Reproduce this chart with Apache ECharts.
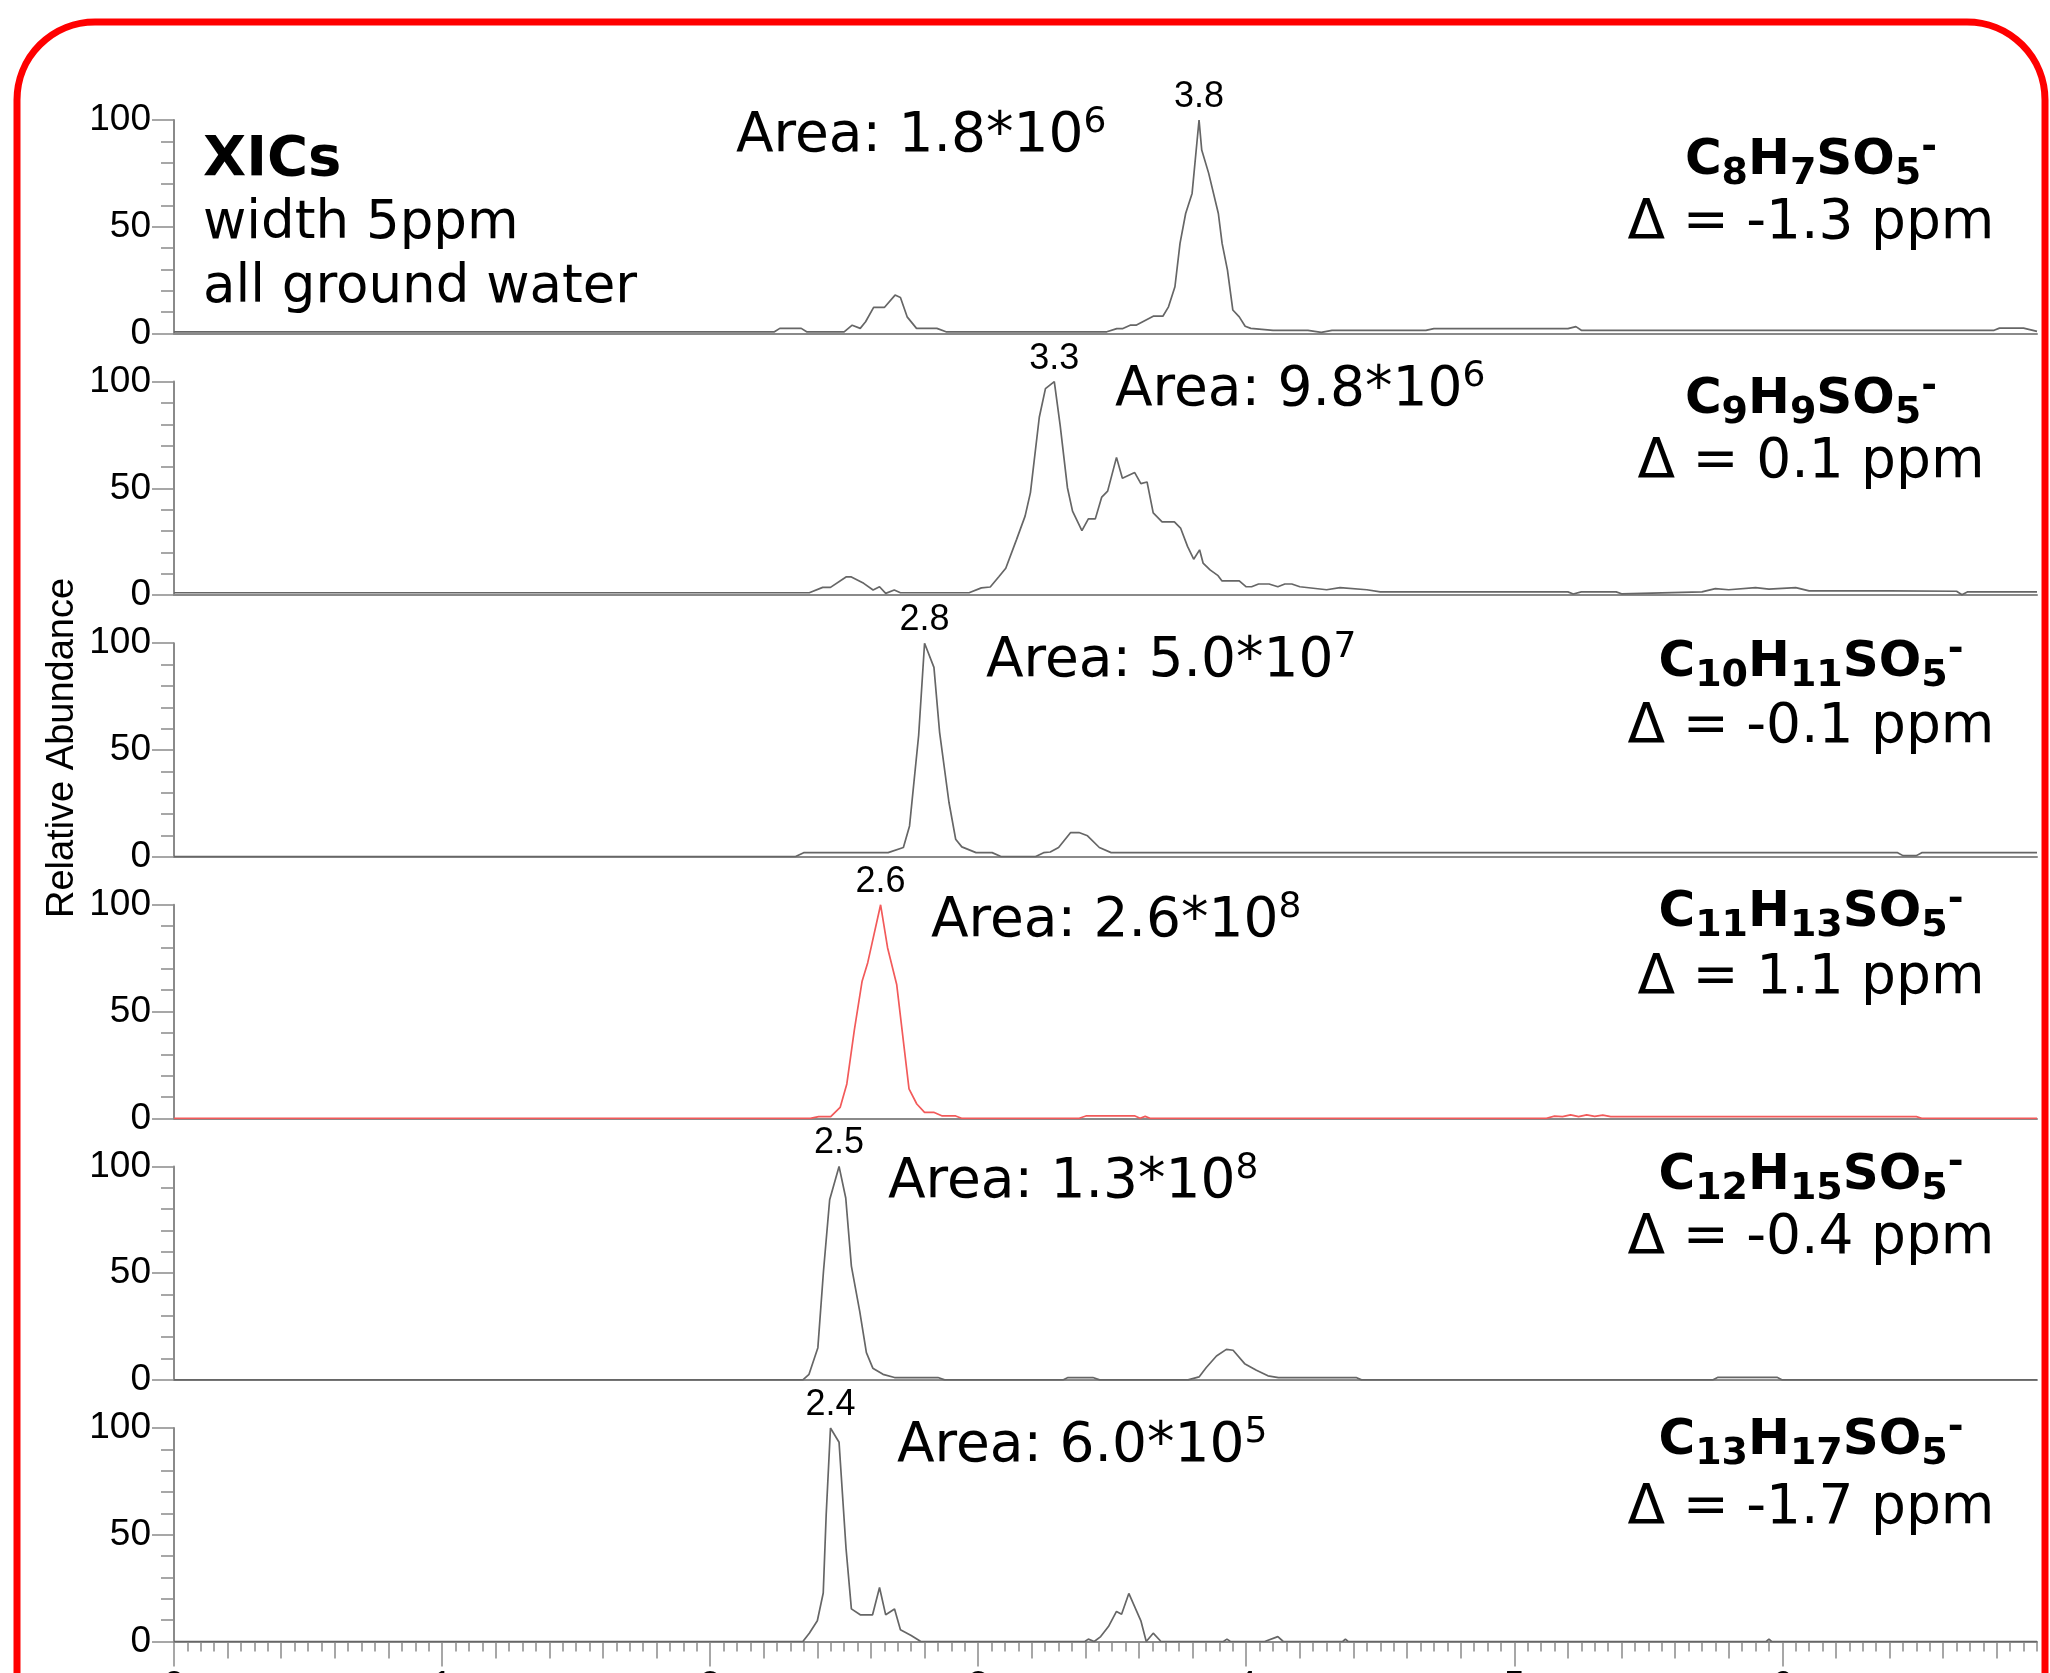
<!DOCTYPE html>
<html>
<head>
<meta charset="utf-8">
<script src="https://cdn.jsdelivr.net/npm/echarts@6/dist/echarts.min.js"></script>
<style>
html,body{margin:0;padding:0;background:#ffffff;}
#chart{width:2050px;height:1673px;}
</style>
</head>
<body>
<div id="chart"></div>
<script>
// ---------- data ----------
const xTickLabels = [0, 1, 2, 3, 4, 5, 6];
const yTickLabels = [0, 50, 100];
const peakLabels = ['3.8', '3.3', '2.8', '2.6', '2.5', '2.4'];
const areaMantissa = ['1.8', '9.8', '5.0', '2.6', '1.3', '6.0'];
const areaExponent = ['6', '6', '7', '8', '8', '5'];
const formulaC = ['8', '9', '10', '11', '12', '13'];
const formulaH = ['7', '9', '11', '13', '15', '17'];
const deltaPpm = ['-1.3', '0.1', '-0.1', '1.1', '-0.4', '-1.7'];

// [time (min), relative abundance]
const trace1 = [[0,0.8],[2.24,0.8],[2.26,2.4],[2.34,2.4],[2.36,0.8],[2.50,0.8],[2.53,3.9],[2.56,2.4],[2.58,5.5],[2.61,12.2],[2.65,12.2],[2.69,18],[2.71,16.9],[2.735,7.8],[2.77,2.4],[2.846,2.4],[2.88,0.8],[3.48,0.8],[3.517,2.3],[3.54,2.3],[3.567,3.9],[3.589,3.9],[3.653,8.1],[3.689,8.1],[3.71,12.5],[3.734,21.9],[3.753,42.2],[3.774,56.2],[3.798,65.6],[3.824,100],[3.834,85.9],[3.86,75],[3.896,56.2],[3.91,42.2],[3.93,29.7],[3.95,11],[3.974,7.8],[3.996,3.4],[4.017,2.4],[4.1,1.5],[4.23,1.5],[4.28,0.5],[4.32,1.5],[4.67,1.5],[4.7,2.3],[5.2,2.3],[5.23,3.2],[5.25,1.5],[6.79,1.5],[6.81,2.5],[6.9,2.5],[6.95,1.0]];
const trace2 = [[0,1.1],[2.37,1.1],[2.42,3.6],[2.449,3.6],[2.507,8.5],[2.527,8.5],[2.573,5.5],[2.608,2.4],[2.632,3.9],[2.655,0.8],[2.687,2.4],[2.71,1.1],[2.966,1.1],[3.012,3.4],[3.045,3.8],[3.077,8.6],[3.103,12.6],[3.143,26],[3.175,37],[3.195,48],[3.228,83.3],[3.251,96.7],[3.284,100],[3.306,79.4],[3.333,50.3],[3.352,39.3],[3.387,30.2],[3.411,35.7],[3.437,35.7],[3.461,45.9],[3.483,48.7],[3.516,64.5],[3.538,54.7],[3.584,57.4],[3.607,52.2],[3.63,53],[3.653,38.5],[3.686,34.3],[3.732,34.3],[3.755,31.4],[3.781,22.8],[3.804,16.8],[3.826,21.2],[3.839,15],[3.865,11.8],[3.895,9.1],[3.909,6.7],[3.974,6.7],[4.0,3.9],[4.02,3.9],[4.046,5.2],[4.085,5.2],[4.118,3.9],[4.144,5.2],[4.17,5.2],[4.2,3.9],[4.3,2.5],[4.35,3.5],[4.45,2.5],[4.5,1.5],[5.2,1.5],[5.22,0.5],[5.25,1.5],[5.38,1.5],[5.4,0.6],[5.7,1.5],[5.75,3],[5.8,2.5],[5.9,3.5],[5.95,2.8],[6.05,3.5],[6.1,2],[6.4,2],[6.65,1.8],[6.67,0.2],[6.69,1.5],[6.95,1.5]];
const trace3 = [[0,0],[2.317,0],[2.349,1.9],[2.664,1.9],[2.721,4.3],[2.744,14.4],[2.778,56.9],[2.8,100],[2.835,88.7],[2.856,58.4],[2.891,25.5],[2.916,8.2],[2.939,4.6],[2.992,1.9],[3.052,1.9],[3.087,0],[3.213,0],[3.244,1.9],[3.269,2.2],[3.3,4.3],[3.345,11.3],[3.376,11.3],[3.408,9.8],[3.452,4.3],[3.496,1.9],[6.43,1.9],[6.45,0.5],[6.5,0.5],[6.52,1.9],[6.95,1.9]];
const trace4 = [[0,0],[2.374,0],[2.405,0.8],[2.45,0.8],[2.485,5.1],[2.51,16.1],[2.538,41.3],[2.567,64.2],[2.588,72.9],[2.636,100],[2.662,79.9],[2.696,62.7],[2.742,13.8],[2.771,6.7],[2.8,2.8],[2.834,2.8],[2.866,1.1],[2.916,1.1],[2.938,0],[3.377,0],[3.402,1.1],[3.585,1.1],[3.604,0],[3.623,0.9],[3.641,0],[5.12,0],[5.15,1],[5.18,0.8],[5.21,1.6],[5.24,0.8],[5.27,1.6],[5.3,0.9],[5.33,1.5],[5.36,0.8],[6.5,0.8],[6.52,0],[6.95,0]];
const trace5 = [[0,0],[2.346,0],[2.369,2.6],[2.402,15.1],[2.423,51],[2.446,84.4],[2.481,100],[2.506,85.2],[2.527,53.3],[2.558,32.2],[2.583,12.8],[2.607,5.5],[2.645,2.6],[2.688,1.1],[2.85,1.1],[2.875,0],[3.316,0],[3.335,1.1],[3.428,1.1],[3.453,0],[3.783,0],[3.824,1.4],[3.851,5.8],[3.889,11.2],[3.926,14.3],[3.951,13.9],[3.994,7.6],[4.038,4.5],[4.081,1.9],[4.12,1.1],[4.41,1.1],[4.43,0],[5.74,0],[5.76,1.2],[5.98,1.2],[6.0,0],[6.95,0]];
const trace6 = [[0,0],[2.346,0],[2.37,3.9],[2.4,9.7],[2.422,22.7],[2.433,59.4],[2.449,100],[2.481,93.3],[2.507,43.7],[2.527,15.3],[2.56,12.5],[2.606,12.5],[2.632,25.3],[2.655,12.5],[2.688,15.2],[2.71,5.5],[2.75,2.8],[2.786,0],[3.398,0],[3.411,1.1],[3.433,0],[3.457,2.3],[3.486,7],[3.516,14.1],[3.535,12.8],[3.562,22.5],[3.607,9.7],[3.627,0],[3.653,3.9],[3.682,0],[3.915,0],[3.928,1.1],[3.941,0],[4.069,0],[4.118,2.3],[4.138,0],[4.36,0],[4.37,1.1],[4.38,0],[5.94,0],[5.95,1.1],[5.96,0],[6.95,0]];

const traces = [trace1, trace2, trace3, trace4, trace5, trace6];
const traceColors = ['#666666', '#666666', '#666666', '#f25a5a', '#666666', '#666666'];

// ---------- layout / style ----------
const X_MAX = 6.95;
const GRID_TOP = 120, GRID_PITCH = 261.6, GRID_H = 213.5;
const AXIS_COLOR = '#8a8a8a';
const NUM_FONT = 'Liberation Sans, Arial, sans-serif';
const TXT_FONT = 'DejaVu Sans, Verdana, sans-serif';

const areaPos = [[736,135],[1115,389],[986,660],[931,920],[888,1181],[897,1445]];
const formulaY = [159, 398, 661, 911, 1174, 1439];
const deltaY = [222, 461, 726, 977, 1237, 1507];
const RIGHT_CX = 1811;

function range(a, b, step) {
  const out = [];
  const n = Math.round((b - a) / step);
  for (let k = 0; k <= n; k++) out.push(Math.round((a + k * step) * 1000) / 1000);
  return out;
}
const midTicks = range(0, 6.8, 0.2);
const minorTicks = range(0, 6.95, 0.05);

const grids = [], xAxes = [], yAxes = [], series = [];
for (let i = 0; i < 6; i++) {
  grids.push({ left: 174, right: 13, top: GRID_TOP + i * GRID_PITCH, height: GRID_H,
    containLabel: false, outerBoundsMode: 'none' });
  const isBottom = i === 5;
  xAxes.push({
    gridIndex: i, type: 'value', position: 'bottom', min: 0, max: X_MAX, interval: 1,
    axisLine: { show: true, onZero: false, lineStyle: { color: AXIS_COLOR, width: 2 } },
    axisTick: { show: isBottom, length: 25, inside: false, customValues: xTickLabels, lineStyle: { color: AXIS_COLOR, width: 1.5 } },
    minorTick: { show: false },
    axisLabel: { show: isBottom, customValues: xTickLabels, margin: 27, fontSize: 37, fontFamily: NUM_FONT, color: '#000',
      formatter: v => (xTickLabels.indexOf(v) >= 0 ? String(v) : '') },
    splitLine: { show: false }
  });
  yAxes.push({
    gridIndex: i, type: 'value', min: 0, max: 100, interval: 50,
    axisLine: { show: true, lineStyle: { color: AXIS_COLOR, width: 2 } },
    axisTick: { show: true, length: 22, inside: false, lineStyle: { color: AXIS_COLOR, width: 1.5 } },
    minorTick: { show: true, splitNumber: 5, length: 13, lineStyle: { color: AXIS_COLOR, width: 1.5 } },
    splitLine: { show: false }, minorSplitLine: { show: false },
    axisLabel: { show: true, margin: 23, fontSize: 37, fontFamily: NUM_FONT, color: '#000',
      formatter: v => (yTickLabels.indexOf(v) >= 0 ? String(v) : '') }
  });
  let apex = traces[i][0];
  traces[i].forEach(p => { if (p[1] > apex[1]) apex = p; });
  series.push({
    type: 'line', xAxisIndex: i, yAxisIndex: i, data: traces[i],
    showSymbol: false, symbol: 'none', smooth: false, animation: false, z: 3,
    lineStyle: { color: traceColors[i], width: 1.7 },
    markPoint: {
      symbol: 'circle', symbolSize: 0, animation: false,
      itemStyle: { color: 'rgba(0,0,0,0)' },
      label: { show: true, position: 'top', distance: 5, fontSize: 36, fontFamily: NUM_FONT, color: '#000',
        formatter: () => peakLabels[i] },
      data: [{ coord: [apex[0], apex[1]] }]
    }
  });
}
// extra tick axes on the bottom grid (0.2 and 0.05 min)
xAxes.push({
  gridIndex: 5, type: 'value', position: 'bottom', offset: 0, min: 0, max: X_MAX, interval: 0.2,
  axisLine: { show: false, onZero: false }, axisLabel: { show: false }, splitLine: { show: false },
  axisTick: { show: true, length: 17, customValues: midTicks, lineStyle: { color: AXIS_COLOR, width: 1.5 } }
});
xAxes.push({
  gridIndex: 5, type: 'value', position: 'bottom', offset: 0, min: 0, max: X_MAX, interval: 0.05,
  axisLine: { show: false, onZero: false }, axisLabel: { show: false }, splitLine: { show: false },
  axisTick: { show: true, length: 10, customValues: minorTicks, lineStyle: { color: AXIS_COLOR, width: 1.5 } }
});

// ---------- annotations ----------
const graphics = [];
graphics.push({
  type: 'rect', z: 0, silent: true,
  shape: { x: 17, y: 22, width: 2028, height: 1800, r: 78 },
  style: { fill: 'none', stroke: '#ff0000', lineWidth: 7 }
});
graphics.push({
  type: 'text', x: 63, y: 748, rotation: Math.PI / 2, z: 10,
  style: { text: 'Relative Abundance', fontSize: 38, fontFamily: NUM_FONT, fill: '#000',
    align: 'center', verticalAlign: 'middle', textAlign: 'center', textVerticalAlign: 'middle' }
});
const xicLines = [['XICs', 'bold', 56, 160], ['width 5ppm', 'normal', 53, 224], ['all ground water', 'normal', 53, 288]];
xicLines.forEach(l => graphics.push({
  type: 'text', x: 203, y: l[3], z: 10,
  style: { text: l[0], fontSize: l[2], fontWeight: l[1], fontFamily: TXT_FONT, fill: '#000',
    align: 'left', verticalAlign: 'middle', textAlign: 'left', textVerticalAlign: 'middle' }
}));
for (let i = 0; i < 6; i++) {
  graphics.push({
    type: 'text', x: areaPos[i][0], y: areaPos[i][1] + 2, z: 10,
    style: {
      text: '{m|Area: ' + areaMantissa[i] + '*10}{s|' + areaExponent[i] + '}',
      align: 'left', verticalAlign: 'middle', textAlign: 'left', textVerticalAlign: 'middle',
      rich: {
        m: { fontSize: 55, fontFamily: TXT_FONT, lineHeight: 76, verticalAlign: 'middle', fill: '#000' },
        s: { fontSize: 36, fontFamily: TXT_FONT, lineHeight: 36, verticalAlign: 'top', padding: [6, 0, 0, 0], fill: '#000' }
      }
    }
  });
  graphics.push({
    type: 'text', x: RIGHT_CX, y: formulaY[i] + 2, z: 10,
    style: {
      text: '{b|C}{s|' + formulaC[i] + '}{b|H}{s|' + formulaH[i] + '}{b|SO}{s|5}{p|-}',
      align: 'center', verticalAlign: 'middle', textAlign: 'center', textVerticalAlign: 'middle',
      rich: {
        b: { fontSize: 50, fontWeight: 'bold', fontFamily: TXT_FONT, lineHeight: 64, verticalAlign: 'middle', fill: '#000' },
        s: { fontSize: 38, fontWeight: 'bold', fontFamily: TXT_FONT, lineHeight: 34, verticalAlign: 'bottom', fill: '#000' },
        p: { fontSize: 38, fontWeight: 'bold', fontFamily: TXT_FONT, lineHeight: 38, verticalAlign: 'top', fill: '#000' }
      }
    }
  });
  graphics.push({
    type: 'text', x: RIGHT_CX, y: deltaY[i] + 2, z: 10,
    style: { text: '\u0394 = ' + deltaPpm[i] + ' ppm', fontSize: 55, fontFamily: TXT_FONT, fill: '#000',
      align: 'center', verticalAlign: 'middle', textAlign: 'center', textVerticalAlign: 'middle' }
  });
}

const chart = echarts.init(document.getElementById('chart'), null, { renderer: 'canvas', width: 2050, height: 1673 });
chart.setOption({
  animation: false,
  backgroundColor: '#ffffff',
  grid: grids,
  xAxis: xAxes,
  yAxis: yAxes,
  series: series,
  graphic: { elements: graphics }
});
</script>
</body>
</html>
